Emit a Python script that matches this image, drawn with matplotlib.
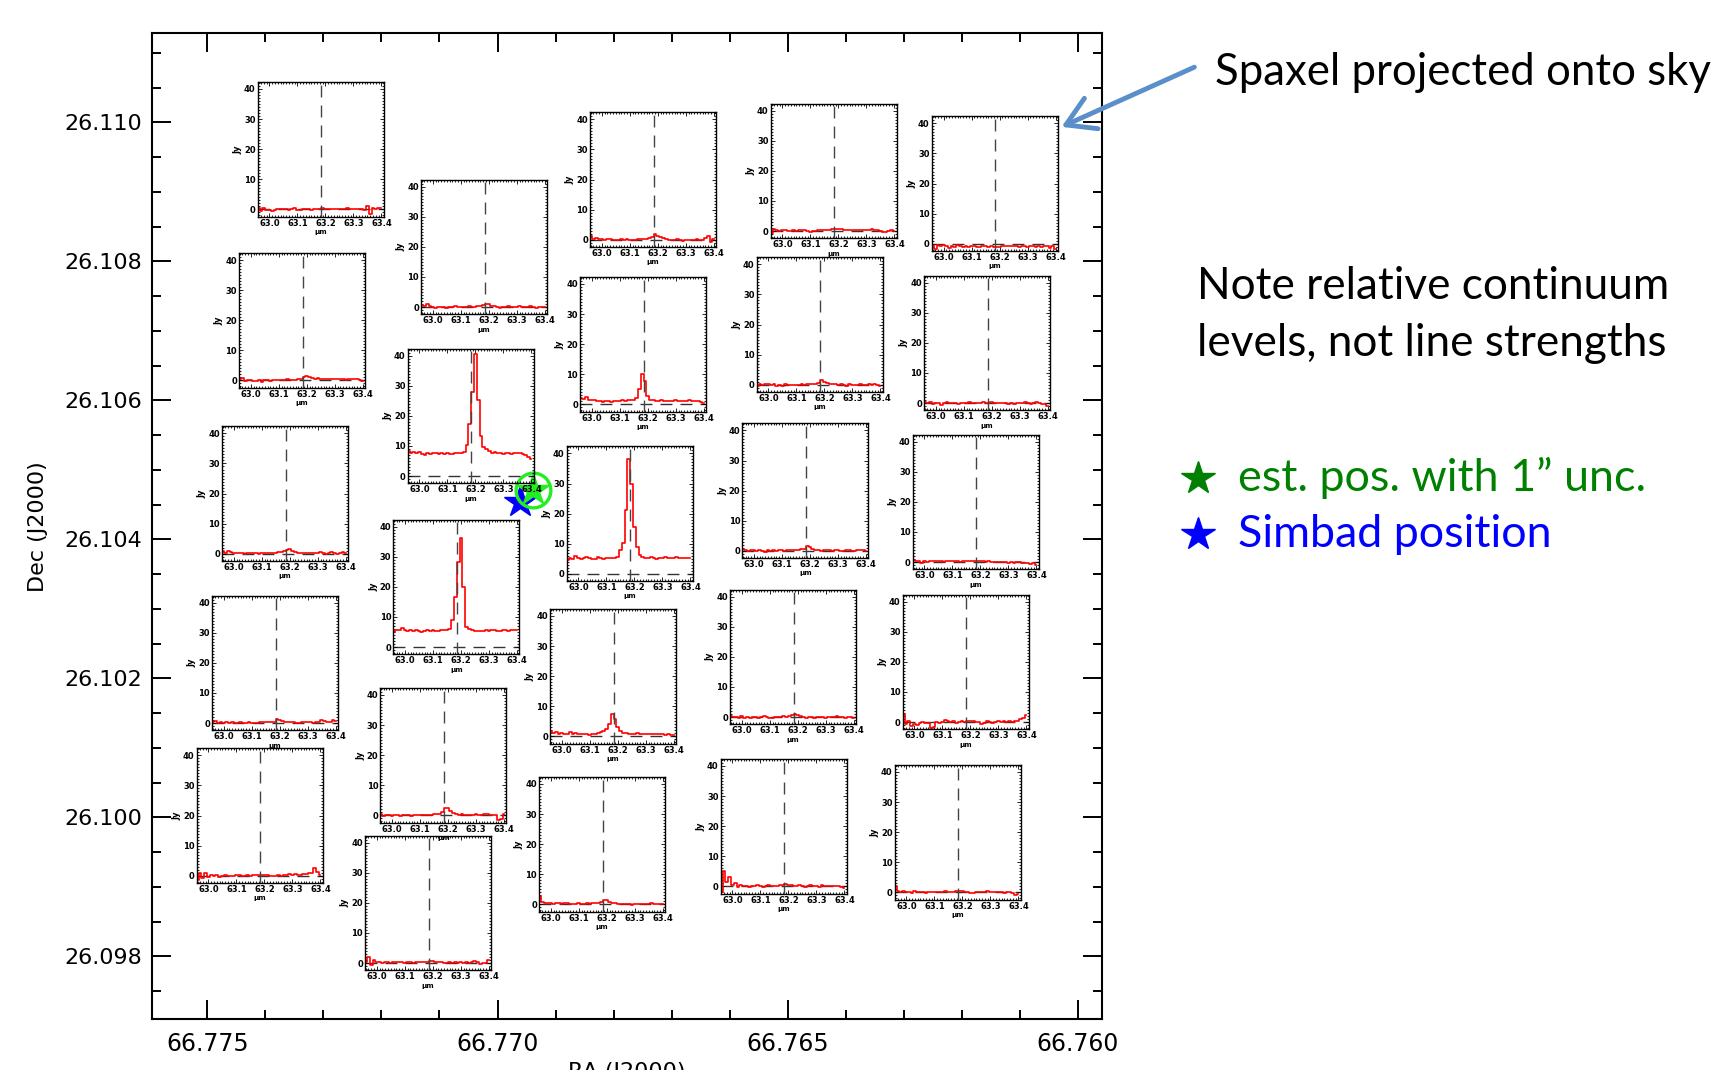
import numpy as np
import matplotlib
matplotlib.use("Agg")
from matplotlib import pyplot as plt
from matplotlib.ticker import MultipleLocator, FormatStrFormatter
from matplotlib.patches import FancyArrowPatch

# spaxel centres projected on the sky (deg)
spax_ra = [66.773046, 66.770233, 66.767321, 66.764207, 66.761433,
           66.773368, 66.770462, 66.767493, 66.764449, 66.761566,
           66.773661, 66.767722, 66.770710, 66.764697, 66.761761,
           66.773834, 66.768010, 66.764909, 66.761933,
           66.774097, 66.770934, 66.771197, 66.768199, 66.765069, 66.762071]
spax_dec = [26.109612, 26.108206, 26.109174, 26.109299, 26.109117,
            26.107151, 26.105774, 26.106806, 26.107088, 26.106824,
            26.104656, 26.104368, 26.103314, 26.104699, 26.104537,
            26.102220, 26.102029, 26.102306, 26.102235,
            26.100023, 26.100892, 26.098767, 26.099612, 26.099871, 26.099784]

# wavelength bins (um) and spectra (Jy), one list per spaxel
wave = np.round(np.linspace(62.96, 63.40, 45), 3)
spectra = [
    [0.5, -0.6, 0.3, -0.2, -0.3, -0.4, -0.2, 0.0, 0.1, 0.0, 0.0, -0.1, 0.0, 0.5, -0.2,
     -0.1, 0.0, 0.0, 0.1, -0.1, 0.0, 0.1, 0.2, 0.3, 0.2, 0.1, 0.0, 0.1, 0.2, 0.1,
     0.0, 0.2, 0.3, 0.1, 0.0, 0.0, 0.1, 0.0, -0.1, 1.2, -1.6, 0.6, 0.2, 0.3, 0.5],
    [0.8, 0.3, 0.9, 0.2, 0.0, -0.2, 0.0, 0.1, 0.0, -0.3, 0.1, 0.0, 0.2, 0.0, 0.1,
     0.0, 0.1, 0.2, 0.1, 0.0, 0.3, 0.4, 0.6, 1.1, 0.9, 0.5, 0.2, 0.0, -0.2, 0.0,
     0.1, 0.3, 0.1, -0.1, 0.0, 0.2, 0.0, -0.1, 0.1, 0.2, 0.0, -0.2, 0.0, 0.1, -0.1],
    [1.2, 0.4, 0.6, 0.3, 0.2, 0.0, 0.1, 0.2, 0.0, -0.1, 0.0, 0.1, 0.0, 0.2, 0.0,
     -0.1, 0.0, 0.1, 0.2, 0.3, 0.4, 0.5, 0.9, 1.9, 1.3, 0.8, 0.5, 0.2, 0.0, -0.2,
     -0.1, 0.2, 0.0, -0.3, -0.2, 0.0, -0.2, 0.0, 0.1, 0.0, -0.2, 0.6, 1.2, -0.8, 0.2],
    [-0.8, 0.6, 0.2, 0.0, 0.3, 0.2, 0.0, 0.1, 0.2, 0.1, 0.2, 0.3, 0.2, 0.0, -0.4,
     0.0, 0.1, 0.2, 0.3, 0.2, 0.4, 0.5, 0.6, 0.8, 0.7, 0.6, 0.5, 0.4, 0.3, 0.5,
     0.4, 0.3, 0.5, 0.4, 0.2, 0.3, 0.6, 0.5, 0.2, 0.0, -0.3, -0.4, 0.0, 0.2, 0.1],
    [-0.5, -1.8, -0.3, -0.9, -0.4, -0.6, -1.3, -0.7, -1.0, -0.5, -0.9, -1.1, -0.8, -1.2, -0.9,
     -0.7, -1.0, -1.2, -0.9, -0.8, -1.1, -0.9, -1.0, -1.2, -1.0, -0.8, -0.6, -0.7, -0.9, -0.6,
     -0.8, -1.0, -0.7, -0.9, -1.1, -0.6, -0.8, -1.2, -0.7, -1.0, -0.6, -0.9, -1.4, -0.8, -1.8],
    [0.3, 0.8, -0.2, 0.2, 0.0, -0.3, -0.1, 0.0, -0.5, 0.1, 0.0, -0.2, 0.0, 0.1, 0.2,
     0.0, 0.1, 0.3, 0.2, 0.1, 0.2, 0.4, 0.6, 1.2, 1.4, 1.1, 0.8, 0.6, 0.7, 0.5,
     0.6, 0.4, 0.5, 0.6, 0.3, 0.4, 0.5, 0.3, 0.2, 0.4, 0.6, 0.3, 0.5, 0.2, -0.1],
    [8.2, 7.6, 8.0, 7.5, 7.9, 7.4, 7.1, 7.6, 7.3, 7.5, 7.8, 7.4, 7.6, 7.2, 7.5,
     7.3, 7.4, 7.6, 7.5, 7.7, 8.0, 10.4, 17.2, 28.0, 40.6, 25.2, 13.3, 9.7, 9.0, 8.2,
     7.8, 7.9, 7.5, 7.7, 7.4, 7.6, 7.8, 7.3, 7.6, 7.5, 7.7, 7.4, 7.0, 6.3, 5.8],
    [2.2, 1.8, 2.3, 1.6, 1.5, 1.3, 1.0, 1.2, 0.9, 1.1, 1.0, 0.8, 1.1, 1.2, 1.0,
     1.3, 1.2, 1.4, 1.5, 1.6, 2.0, 5.0, 10.2, 7.8, 2.8, 1.6, 1.3, 1.2, 1.1, 1.3,
     1.1, 1.2, 1.0, 1.1, 1.3, 1.2, 1.0, 1.1, 1.2, 1.3, 1.1, 1.2, 1.0, 0.8, 0.6],
    [-0.5, 0.3, 0.0, 0.4, 0.1, -0.2, 0.2, -0.3, 0.0, -0.4, 0.1, 0.0, -0.2, 0.0, -0.1,
     0.0, 0.1, 0.0, 0.2, 0.1, 0.2, 0.3, 0.5, 1.5, 0.9, 0.6, 0.4, 0.2, 0.1, 0.0,
     0.1, 0.0, -0.3, 0.2, 0.0, -0.1, 0.0, 0.2, 0.0, -0.2, 0.1, 0.0, 0.3, 0.0, -0.4],
    [0.5, 0.0, 0.2, -0.4, 0.0, 0.1, -0.8, 0.0, 0.2, 0.0, 0.1, 0.0, -0.2, 0.0, 0.1,
     0.0, 0.2, 0.1, 0.0, 0.1, 0.0, 0.2, 0.1, 0.0, 0.2, 0.1, 0.0, -0.1, 0.0, 0.1,
     -0.2, 0.0, -0.3, 0.0, 0.1, 0.0, 0.2, 0.0, -0.2, 0.1, 0.3, 0.0, -0.2, -0.4, -0.9],
    [0.8, 0.3, 1.0, 0.5, 0.2, 0.1, 0.3, 0.2, 0.0, 0.2, 0.3, 0.1, 0.2, 0.0, 0.3,
     0.2, 0.1, 0.3, 0.2, 0.4, 0.5, 0.6, 0.8, 1.2, 1.5, 1.0, 0.6, 0.3, 0.1, 0.2,
     0.4, 0.3, 0.2, 0.1, 0.3, 0.6, 0.2, 0.0, 0.3, 0.5, 0.2, -0.1, 0.3, 0.6, 0.2],
    [4.6, 5.3, 5.0, 5.8, 5.2, 5.0, 5.4, 5.6, 5.2, 5.0, 4.9, 5.5, 5.2, 5.0, 5.3,
     5.1, 5.4, 5.2, 5.6, 7.8, 10.2, 21.3, 38.0, 29.7, 15.6, 9.0, 6.3, 5.5, 5.4, 5.2,
     5.5, 5.3, 5.0, 5.4, 5.2, 5.5, 5.1, 5.4, 5.2, 5.5, 5.3, 5.4, 5.2, 5.3, 5.1],
    [5.0, 5.8, 5.5, 6.2, 5.6, 5.4, 5.5, 5.2, 5.7, 5.3, 5.0, 5.4, 5.6, 5.3, 5.5,
     5.2, 5.4, 5.6, 5.5, 5.6, 6.0, 9.0, 16.7, 28.3, 36.1, 20.0, 6.7, 6.0, 5.6, 5.3,
     5.2, 5.4, 5.3, 5.5, 5.4, 5.5, 5.6, 5.4, 5.3, 5.5, 5.6, 5.4, 5.5, 5.7, 5.6],
    [0.5, 0.2, -0.2, 0.1, 0.3, 0.0, 0.2, 0.0, -0.3, 0.1, 0.0, 0.2, 0.0, 0.3, 0.1,
     0.0, 0.2, 0.1, 0.3, 0.2, 0.4, 0.5, 0.7, 1.5, 1.2, 0.7, 0.4, 0.2, 0.0, 0.1,
     0.3, 0.2, 0.0, 0.1, 0.2, 0.0, -0.1, 0.2, 0.3, 0.0, -0.2, 0.1, 0.3, 0.2, 0.0],
    [0.6, 0.3, 0.5, -0.2, 0.2, 0.0, 0.3, 0.4, 0.2, 0.3, 0.2, 0.1, 0.2, 0.3, 0.2,
     0.3, 0.2, 0.1, 0.2, 0.3, 0.2, 0.2, 0.3, 0.4, 0.3, 0.2, 0.1, 0.2, 0.0, -0.1,
     0.0, -0.1, 0.1, 0.0, -0.2, -0.1, -0.3, -0.1, 0.0, -0.2, -0.4, -0.3, -0.5, -0.4, -1.0],
    [0.2, 0.8, 0.0, 0.3, 0.1, 0.2, 0.0, 0.3, 0.1, 0.0, 0.2, 0.1, 0.0, 0.2, 0.1,
     0.0, 0.1, 0.2, 0.3, 0.2, 0.3, 0.4, 0.5, 1.2, 1.0, 0.7, 0.5, 0.3, 0.4, 0.2,
     0.1, 0.0, 0.2, 0.3, 0.2, 0.4, 0.1, 0.2, 0.3, 1.1, 0.6, 0.3, 0.5, 1.0, 0.6],
    [1.8, 1.0, 1.5, 0.8, 1.1, 0.7, 0.9, 1.3, 0.8, 1.0, 0.9, 0.8, 0.7, 0.8, 0.6,
     0.7, 0.9, 1.2, 1.4, 1.8, 2.6, 4.2, 7.4, 5.6, 3.0, 1.8, 1.2, 1.0, 0.9, 0.8,
     0.9, 1.0, 0.8, 0.9, 0.8, 0.7, 0.9, 0.8, 0.7, 0.8, 0.9, 0.6, 0.7, 0.5, 0.3],
    [0.3, -0.1, 0.0, -0.3, 0.2, -0.2, 0.0, -0.4, 0.1, 0.0, -0.2, 0.1, 0.3, 0.0, -0.4,
     -0.2, 0.0, 0.1, 0.0, 0.2, 0.1, 0.3, 0.6, 1.0, 0.6, 0.3, 0.1, -0.2, -0.1, 0.0,
     -0.3, 0.0, 0.1, 0.0, -0.2, 0.1, 0.0, -0.1, 0.2, 0.0, 0.1, -0.2, 0.0, 0.1, -0.3],
    [2.5, -0.8, 0.2, -1.2, -0.5, -1.0, -0.4, 0.0, -0.3, -0.2, -1.9, -1.5, 0.0, -0.2, 0.0,
     0.8, 0.2, 0.0, 0.3, -0.2, 0.0, 0.2, 0.0, 0.3, 0.5, 0.2, 0.0, 0.1, -0.5, -0.2,
     0.2, 0.0, -0.3, 0.0, 0.2, -0.1, 0.2, 0.0, 0.4, 0.0, 0.3, 0.5, 0.9, 1.2, 2.4],
    [-1.5, 1.0, -0.8, 0.8, -0.5, 0.4, -0.2, 0.1, -0.3, -0.1, 0.2, 0.0, -0.1, 0.0, 0.2,
     0.1, 0.0, -0.1, 0.1, 0.0, 0.2, 0.1, 0.3, 0.4, 0.2, 0.1, 0.0, -0.1, 0.0, 0.1,
     0.0, 0.2, 0.3, 0.5, 0.3, 0.6, 0.4, 0.2, 0.5, 0.6, 0.8, 1.0, 2.5, 1.2, 0.3],
    [0.5, -0.3, 0.2, 0.0, -0.2, 0.1, 0.0, -0.2, 0.0, 0.1, 0.0, -0.3, 0.1, 0.2, 0.0,
     0.1, 0.2, 0.1, 0.0, 0.3, 0.4, 0.6, 1.0, 2.5, 2.3, 1.5, 0.8, 0.3, 0.1, 0.3,
     0.1, 0.0, 0.2, 0.1, 0.3, 0.1, 0.2, 0.6, 0.4, 0.1, 0.2, 0.0, -1.5, -1.2, 0.3],
    [0.5, 2.0, -0.5, 1.0, 0.2, 0.4, -0.1, 0.5, 0.3, 0.1, 0.4, 0.2, 0.3, 0.5, 0.1,
     0.2, 0.3, 0.1, 0.3, 0.4, 0.2, 0.3, 0.5, 0.8, 0.6, 0.4, 0.3, 0.2, 0.0, 0.1,
     0.2, -0.1, 0.2, 0.1, 0.3, 0.0, 0.2, 0.1, 0.4, 0.6, 0.2, -0.2, 0.0, 0.1, 0.9],
    [2.9, 0.8, 0.5, 0.3, 0.4, 0.2, 0.6, 0.3, 0.2, 0.5, 0.4, 0.1, 0.2, 0.0, 0.3,
     0.2, 0.1, 0.3, 0.2, 0.4, 0.3, 0.5, 0.8, 1.3, 1.3, 0.9, 0.5, 0.3, 0.2, 0.1,
     0.2, 0.0, 0.1, -0.1, 0.2, 0.0, 0.1, 0.2, 0.0, 0.1, 0.3, 0.1, 0.0, 0.2, 0.1],
    [-2.0, 5.0, 1.5, 3.0, 0.5, 1.0, -0.3, 0.4, 0.0, 0.2, -0.2, 0.0, 0.1, 0.3, 0.0,
     -0.1, 0.2, 0.3, 0.1, 0.0, 0.2, 0.4, 0.6, 0.8, 0.5, 0.3, 0.2, 0.0, 0.3, 0.1,
     -0.3, 0.0, 0.5, 0.2, 0.0, -0.2, 0.3, 0.1, 0.0, 0.2, 0.1, 0.0, 0.2, -0.2, -0.5],
    [2.2, 0.3, 0.1, 0.4, 0.2, 0.0, -0.3, 0.3, 0.1, 0.0, 0.2, -0.1, 0.0, 0.1, 0.0,
     0.2, 0.0, 0.1, 0.3, 0.2, 0.1, 0.2, 0.3, 0.5, 0.4, 0.2, 0.0, -0.2, -0.3, 0.0,
     0.1, 0.0, 0.2, 0.3, 0.2, 0.1, 0.0, 0.2, 0.1, -0.2, 0.2, 0.1, -0.1, -0.8, -0.4],
]

line_um = 63.185                      # [OI] 63 um rest position
inset_xticks = [63.0, 63.1, 63.2, 63.3, 63.4]
inset_yticks = [0, 10, 20, 30, 40]

est_pos = (66.769383, 26.104709)      # estimated position, 1" uncertainty
simbad_pos = (66.769612, 26.104541)

NARROW = ['Liberation Sans Narrow', 'DejaVu Sans']
SLIDE = ['Lato', 'DejaVu Sans']

fig = plt.figure(figsize=(17.17, 10.70), dpi=100)
fig.patch.set_facecolor('white')
ax = fig.add_axes([0.08835, 0.04766, 0.55364, 0.92122])
ax.set_xlim(66.775958, 66.75958)
ax.set_ylim(26.097098, 26.111281)
ax.xaxis.set_major_locator(MultipleLocator(0.005))
ax.xaxis.set_minor_locator(MultipleLocator(0.001))
ax.yaxis.set_major_locator(MultipleLocator(0.002))
ax.yaxis.set_minor_locator(MultipleLocator(0.0005))
ax.xaxis.set_major_formatter(FormatStrFormatter('%.3f'))
ax.yaxis.set_major_formatter(FormatStrFormatter('%.3f'))
ax.tick_params(which='both', direction='in', top=True, right=True, width=1.4)
ax.tick_params(which='major', length=13.7)
ax.tick_params(which='minor', length=6.8)
ax.tick_params(axis='x', labelsize=17, pad=9)
ax.tick_params(axis='y', labelsize=16, pad=7)
for sp in ax.spines.values():
    sp.set_linewidth(1.5)
ax.set_xlabel('RA (J2000)', fontsize=16)
ax.xaxis.set_label_coords(0.5, -0.0436)
ax.set_ylabel('Dec (J2000)', fontsize=16)
ax.yaxis.set_label_coords(-0.109, 0.5)

# source positions
ax.plot(*simbad_pos, marker='*', ms=24, color='blue', ls='none', zorder=3)
ax.plot(*est_pos, marker='*', ms=24, color='#22ee22', ls='none', zorder=4)
ax.plot(*est_pos, marker='o', ms=25, mfc='none', mec='#22ee22', mew=2.4,
        ls='none', zorder=4)

# one small spectrum per spaxel, centred on its sky position
w, h = 126 / 1717, 134.5 / 1070
to_fig = ax.transData + fig.transFigure.inverted()
tick_kw = dict(fontsize=6, fontweight='bold', family=NARROW)
for ra, dec, f in zip(spax_ra, spax_dec, spectra):
    cx, cy = to_fig.transform((ra, dec))
    sub = fig.add_axes([cx - w / 2, cy - h / 2, w, h])
    sub.patch.set_alpha(0)
    sub.axhline(0, color='#333333', lw=1.0, dashes=(8.6, 5.8), zorder=1)
    sub.plot(wave, f, drawstyle='steps-mid', color='red', lw=1.2, zorder=2)
    sub.axvline(line_um, color='#444444', lw=1.0, dashes=(8.6, 5.8), zorder=3)
    sub.set_xlim(62.958, 63.408)
    sub.set_ylim(-2.4, 42.3)
    sub.set_xticks(inset_xticks, labels=[f'{v:.1f}' for v in inset_xticks], **tick_kw)
    sub.set_yticks(inset_yticks, labels=[str(v) for v in inset_yticks], **tick_kw)
    sub.xaxis.set_minor_locator(MultipleLocator(0.01))
    sub.yaxis.set_minor_locator(MultipleLocator(1))
    sub.tick_params(which='both', direction='in', top=True, right=True, width=0.6, pad=1.5)
    sub.tick_params(which='major', length=3)
    sub.tick_params(which='minor', length=1.2)
    for sp in sub.spines.values():
        sp.set_linewidth(1.0)
    sub.set_xlabel('µm', fontsize=5, fontweight='bold', labelpad=1)
    sub.set_ylabel('Jy', fontsize=6, fontweight='bold', labelpad=1)

# slide annotations
fig.add_artist(FancyArrowPatch((0.6971, 0.9383), (0.6168, 0.8804),
                               transform=fig.transFigure,
                               arrowstyle='->,head_length=1.0,head_width=0.6',
                               mutation_scale=20, color='#5b8fc9', lw=3.5))
fig.text(0.7077, 0.9327, 'Spaxel projected onto sky', fontsize=31.5,
         family=SLIDE, va='center')
fig.text(0.6971, 0.7318, 'Note relative continuum', fontsize=31.8,
         family=SLIDE, va='center')
fig.text(0.6971, 0.6794, 'levels, not line strengths', fontsize=31.8,
         family=SLIDE, va='center')
fig.add_artist(plt.Line2D([0.6977], [0.5533], marker='*', ms=25, color='#008000',
                          transform=fig.transFigure))
fig.add_artist(plt.Line2D([0.6977], [0.5009], marker='*', ms=25, color='blue',
                          transform=fig.transFigure))
fig.text(0.7210, 0.5533, 'est. pos. with 1\u201d unc.', fontsize=32.3,
         family=SLIDE, va='center', color='#008000')
fig.text(0.7210, 0.5009, 'Simbad position', fontsize=32.3,
         family=SLIDE, va='center', color='blue')

fig.savefig('out.png', dpi=100)
